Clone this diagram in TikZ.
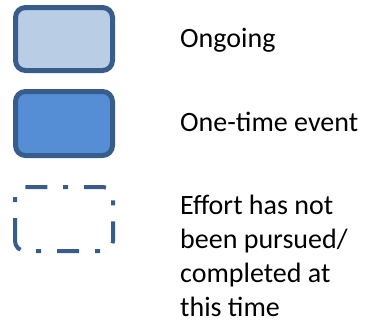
\documentclass[tikz,border=0pt]{standalone}
\usepackage{fontspec}
\setmainfont{Carlito}
\definecolor{edgeblue}{RGB}{56,93,138}
\definecolor{lightfill}{RGB}{185,205,229}
\definecolor{darkfill}{RGB}{85,142,213}
\begin{document}
\begin{tikzpicture}
[
    x=1pt, y=-1pt,
    legendbox/.style={draw=edgeblue, line width=5pt, rounded corners=10pt, minimum width=97pt, minimum height=63pt, inner sep=0pt},
    ongoing/.style={legendbox, fill=lightfill},
    onetime/.style={legendbox, fill=darkfill, minimum height=64pt},
    pending/.style={draw=edgeblue, line width=4pt, rounded corners=10pt,
        dash pattern=on 5pt off 16pt on 22pt off 16pt on 5pt off 16pt on 22pt off 16pt on 5pt off 16pt on 22pt off 16pt on 5pt off 16pt on 33.8pt off 16pt on 5pt off 16pt on 22pt off 16pt},
    legendtext/.style={font=\fontsize{28}{34}\selectfont, anchor=base west, inner sep=0pt, align=left},
]
\useasboundingbox (0,0) rectangle (371,324);
\node[ongoing] (ongoingbox) at (64,39) {};
\node[onetime] (onetimebox) at (64,123.5) {};
\draw[pending] (63,187) -- (113,187) -- (113,251) -- (15,251) -- (15,187) -- (63,187);
\node[legendtext] (ongoinglabel) at (180,47) {Ongoing};
\node[legendtext] (onetimelabel) at (180,131) {One-time event};
\node[legendtext] (pendinglabel) at (180,316) {Effort has not\\been pursued/\\completed at\\this time};
\end{tikzpicture}
\end{document}
